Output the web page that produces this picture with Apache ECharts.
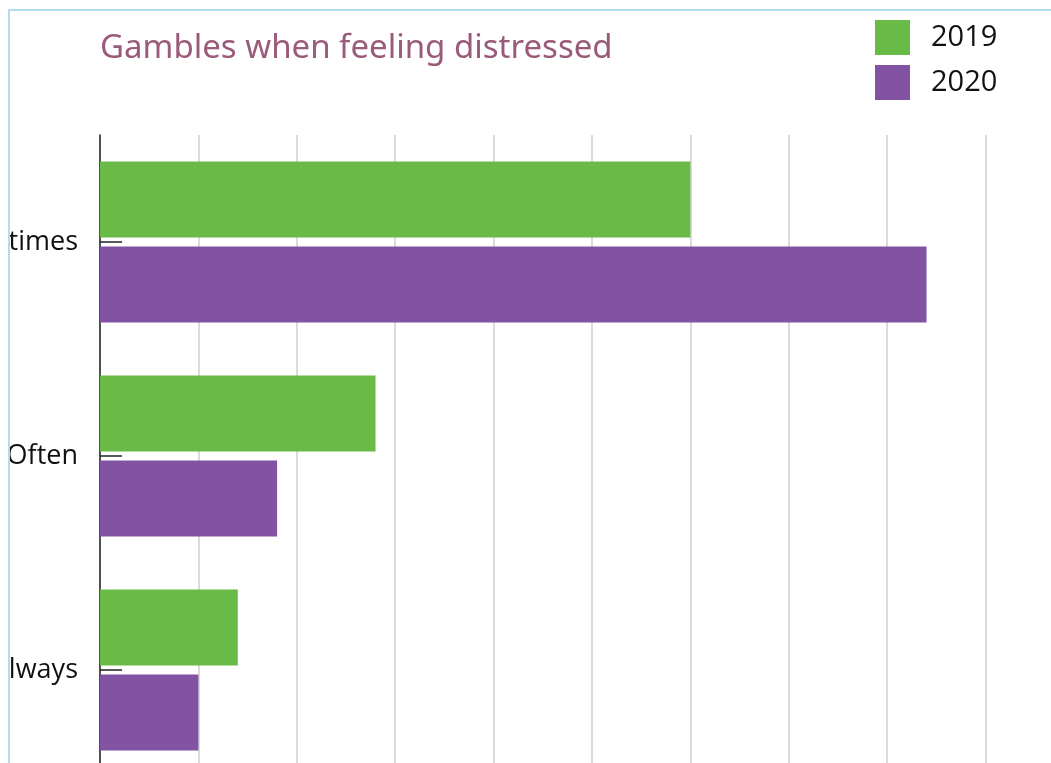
<!DOCTYPE html>
<html>
<head>
<meta charset="utf-8">
<script src="https://cdn.jsdelivr.net/npm/echarts@6/dist/echarts.min.js"></script>
<style>
html,body{margin:0;padding:0;overflow:hidden;background:#fff;width:1051px;height:763px;}
#wrap{position:absolute;left:8px;top:9px;border-left:2px solid #b5dcec;border-top:2px solid #b5dcec;width:1200px;height:900px;overflow:hidden;}
#chart{width:1100px;height:800px;}
</style>
</head>
<body>
<div id="wrap"><div id="chart"></div></div>
<script>
const categories = ["Sometimes", "Often", "Always"];
const seriesNames = ["2019", "2020"];
const values2019 = [6.0, 2.8, 1.4];
const values2020 = [8.4, 1.8, 1.0];
const titleText = "Gambles when feeling distressed";

const chart = echarts.init(document.getElementById('chart'));
chart.setOption({
  animation: false,
  backgroundColor: '#fff',
  title: {
    text: titleText,
    left: 85, top: 16,
    textStyle: {color: '#9a5a7a', fontSize: 33, fontWeight: 'normal', fontFamily: 'Noto Sans'}
  },
  legend: {
    orient: 'vertical',
    left: 860, top: 4,
    itemWidth: 35, itemHeight: 35, itemGap: 10,
    icon: 'rect',
    textStyle: {color: '#111', fontSize: 29, fontFamily: 'Open Sans', padding: [9,0,0,16]},
    data: seriesNames
  },
  grid: {left: 90, top: 124, width: 984, height: 642, containLabel: false, outerBoundsMode: 'none'},
  xAxis: {
    type: 'value', min: 0, max: 10, interval: 1,
    axisLabel: {show: false},
    axisLine: {show: false},
    axisTick: {show: false},
    splitLine: {lineStyle: {color: '#cfcfcf', width: 1.5}}
  },
  yAxis: {
    type: 'category', inverse: true, data: categories,
    axisLine: {show: true, lineStyle: {color: '#222', width: 1.5}},
    axisTick: {show: true, inside: true, alignWithLabel: true, length: 22, lineStyle: {color: '#222', width: 1.5}},
    axisLabel: {color: '#111', fontSize: 27, fontFamily: 'Open Sans', margin: 22}
  },
  series: [
    {name: seriesNames[0], type: 'bar', data: values2019, barWidth: 76, barGap: '12%', itemStyle: {color: '#6aba48'}},
    {name: seriesNames[1], type: 'bar', data: values2020, barWidth: 76, barGap: '12%', itemStyle: {color: '#8253a2'}}
  ]
});
</script>
</body>
</html>
